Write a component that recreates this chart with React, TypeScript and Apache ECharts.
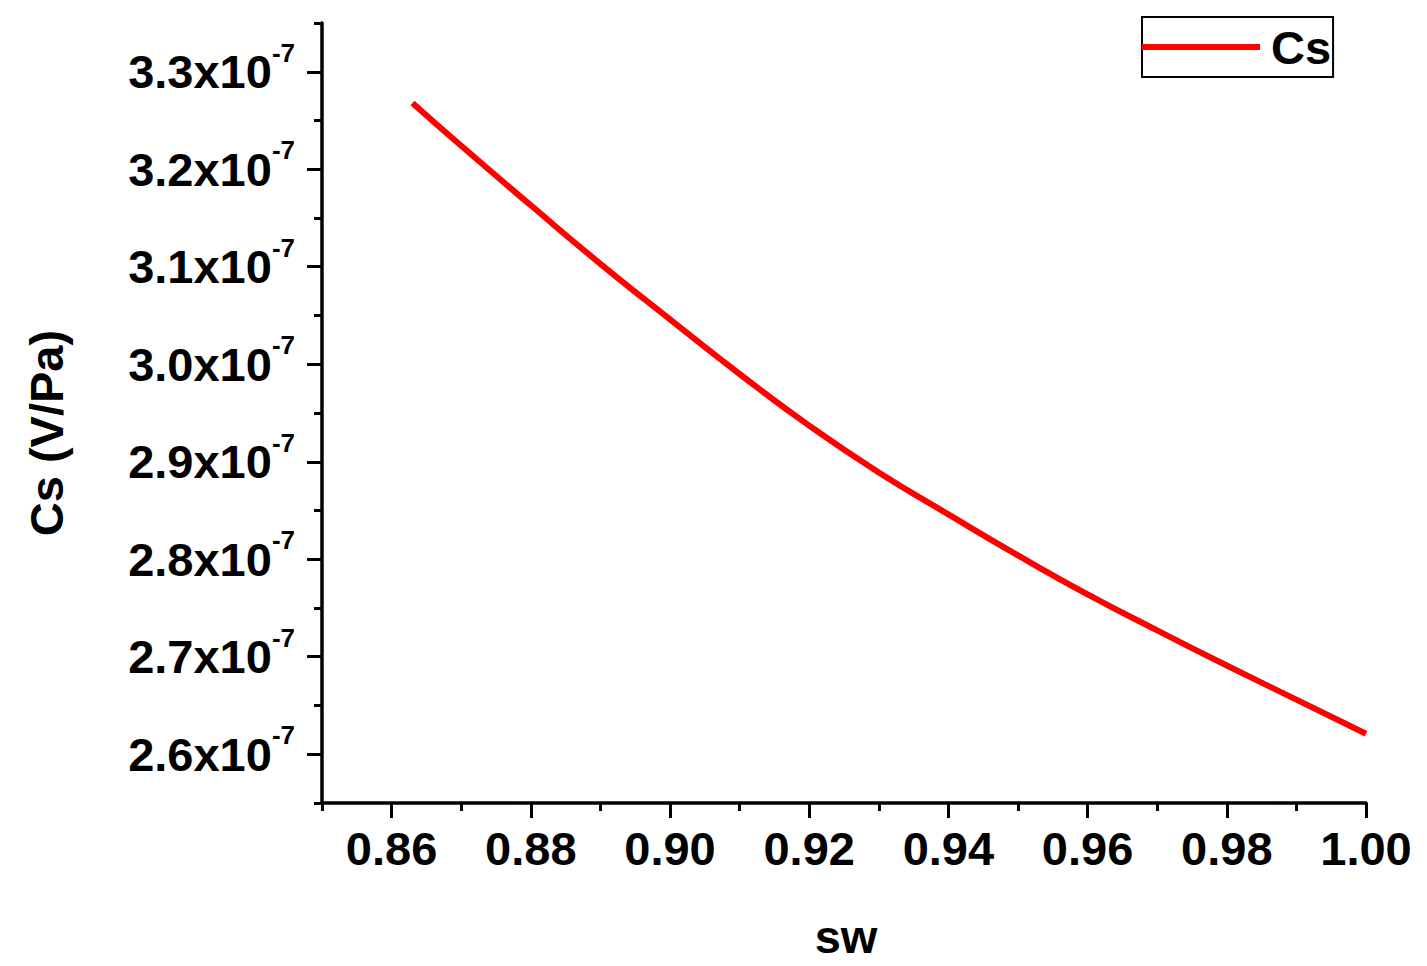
import React, { useEffect, useRef } from "react";
import * as echarts from "echarts";

// sw values (x) and Cs values in units of 1e-7 V/Pa (y)
const swValues = [0.863, 0.87, 0.88, 0.89, 0.9, 0.91, 0.92, 0.93, 0.94, 0.95, 0.96, 0.97, 0.98, 0.99, 1.0];
const csValuesE7 = [3.268, 3.224, 3.163, 3.103, 3.046, 2.990, 2.937, 2.889, 2.846, 2.804, 2.764, 2.727, 2.691, 2.656, 2.621];

const yMajorTicksE7 = [2.6, 2.7, 2.8, 2.9, 3.0, 3.1, 3.2, 3.3];
const yMinorTicksE7 = [2.55, 2.65, 2.75, 2.85, 2.95, 3.05, 3.15, 3.25, 3.35];
const xMajorTicks = [0.86, 0.88, 0.9, 0.92, 0.94, 0.96, 0.98, 1.0];
const xMinorTicks = [0.85, 0.87, 0.89, 0.91, 0.93, 0.95, 0.97, 0.99];

const SCALE = 1e-7;
const FONT = "'Liberation Sans', Arial, sans-serif";

export default function App() {
  const ref = useRef<HTMLDivElement>(null);

  useEffect(() => {
    if (!ref.current) return;
    const chart = echarts.init(ref.current, null, { renderer: "svg" });
    const data = swValues.map((x, i) => [x, csValuesE7[i] * SCALE]);
    const axisColor = "#000";

    chart.setOption({
      animation: false,
      backgroundColor: "#fff",
      grid: { left: 322, right: 61, top: 23, bottom: 163, containLabel: false, outerBoundsMode: "none" },
      legend: {
        show: true,
        data: [{ name: "Cs", icon: "rect" }],
        left: 1142,
        top: 17,
        orient: "horizontal",
        padding: [6, 2, 6, 0],
        borderColor: "#000",
        borderWidth: 2,
        itemWidth: 118,
        itemHeight: 6,
        itemGap: 0,
        itemStyle: { color: "#ff0000", borderWidth: 0 },
        textStyle: { fontFamily: FONT, fontSize: 47, fontWeight: "bold", color: "#000", lineHeight: 48, padding: [0, 0, 0, 6] },
      },
      xAxis: [
        {
          type: "value",
          min: 0.85,
          max: 1.0,
          position: "bottom",
          axisLine: { show: true, onZero: false, lineStyle: { color: axisColor, width: 3.5 } },
          axisTick: { show: true, inside: false, length: 15, lineStyle: { color: axisColor, width: 3 }, customValues: xMajorTicks },
          axisLabel: {
            show: true,
            customValues: xMajorTicks,
            margin: 22,
            fontFamily: FONT,
            fontSize: 47,
            fontWeight: "bold",
            color: "#000",
            formatter: (v: number) => v.toFixed(2),
          },
          splitLine: { show: false },
        },
        {
          type: "value",
          min: 0.85,
          max: 1.0,
          position: "bottom",
          axisLine: { show: false, onZero: false },
          axisTick: { show: true, inside: false, length: 8, lineStyle: { color: axisColor, width: 3 }, customValues: xMinorTicks },
          axisLabel: { show: false },
          splitLine: { show: false },
        },
      ],
      yAxis: [
        {
          type: "value",
          min: 2.55 * SCALE,
          max: 3.35 * SCALE,
          position: "left",
          axisLine: { show: true, onZero: false, lineStyle: { color: axisColor, width: 3.5 } },
          axisTick: {
            show: true,
            inside: false,
            length: 15,
            lineStyle: { color: axisColor, width: 3 },
            customValues: yMajorTicksE7.map((v) => v * SCALE),
          },
          axisLabel: {
            show: true,
            customValues: yMajorTicksE7.map((v) => v * SCALE),
            margin: 27,
            formatter: (v: number) => `{m|${(v / SCALE).toFixed(1)}x10}{s|-7}`,
            rich: {
              m: { fontFamily: FONT, fontSize: 47, fontWeight: "bold", color: "#000", lineHeight: 64 },
              s: { fontFamily: FONT, fontSize: 26, fontWeight: "bold", color: "#000", verticalAlign: "top", lineHeight: 28 },
            },
          },
          splitLine: { show: false },
        },
        {
          type: "value",
          min: 2.55 * SCALE,
          max: 3.35 * SCALE,
          position: "left",
          axisLine: { show: false, onZero: false },
          axisTick: {
            show: true,
            inside: false,
            length: 8,
            lineStyle: { color: axisColor, width: 3 },
            customValues: yMinorTicksE7.map((v) => v * SCALE),
          },
          axisLabel: { show: false },
          splitLine: { show: false },
        },
      ],
      series: [
        {
          name: "Cs",
          type: "line",
          xAxisIndex: 0,
          yAxisIndex: 0,
          data,
          smooth: true,
          showSymbol: false,
          symbol: "none",
          lineStyle: { color: "#ff0000", width: 6 },
          itemStyle: { color: "#ff0000" },
        },
      ],
      graphic: [
        {
          type: "text",
          x: 846,
          y: 936,
          style: {
            text: "sw",
            fontFamily: FONT,
            fontSize: 47,
            fontWeight: "bold",
            fill: "#000",
            align: "center",
            verticalAlign: "middle",
          },
        },
        {
          type: "text",
          x: 46,
          y: 433,
          rotation: Math.PI / 2,
          style: {
            text: "Cs (V/Pa)",
            fontFamily: FONT,
            fontSize: 47,
            fontWeight: "bold",
            fill: "#000",
            align: "center",
            verticalAlign: "middle",
          },
        },
      ],
    });

    return () => chart.dispose();
  }, []);

  return (
    <div
      ref={ref}
      style={{ position: "fixed", left: 0, top: 0, width: 1427, height: 966, background: "#fff" }}
    />
  );
}
